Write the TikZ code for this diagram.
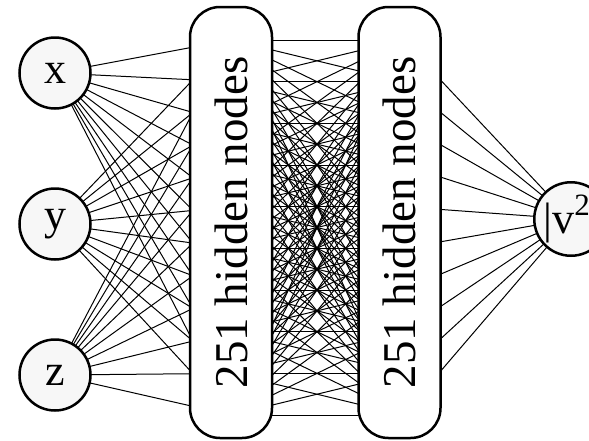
\documentclass[tikz,border=0pt]{standalone}
\usepackage{fontspec}
\setmainfont{Liberation Serif}
\pgfdeclarelayer{background}
\pgfsetlayers{background,main}
\tikzset{
  unitnode/.style={circle, draw, line width=2.5pt, fill=black!3,
    minimum size=71pt, inner sep=0pt, font=\fontsize{44}{50}\selectfont},
  layerbox/.style={draw, line width=2.5pt, fill=white, rounded corners=30pt,
    minimum width=431pt, minimum height=82pt, inner sep=0pt, rotate=90,
    font=\fontsize{47}{52}\selectfont},
  conn/.style={line width=1pt, black}
}
\begin{document}
\begin{tikzpicture}[x=1pt, y=-1pt]
  \useasboundingbox (0,0) rectangle (589,440);
  % input units
  \node[unitnode] (x) at (55,73) {x};
  \node[unitnode] (y) at (55,224) {y};
  \node[unitnode] (z) at (55,375) {z};
  % hidden layers
  \node[layerbox] (h1) at (231,222.5) {251 hidden nodes};
  \node[layerbox] (h2) at (399.5,222.5) {251 hidden nodes};
  % output unit
  \node[unitnode] (out) at (571,219)
    {|v\raisebox{0.42em}{\fontsize{31}{31}\selectfont 2}\phantom{|}\hspace{6pt}};
  % attachment points inside the layers
  \foreach \i in {0,...,9} {
    \coordinate (a\i) at (231,{40+41.67*\i});
    \coordinate (b\i) at (403,{40+41.67*\i});
  }
  % connections, drawn behind the units
  \begin{pgfonlayer}{background}
    \foreach \n in {x,y,z}
      \foreach \i in {0,...,9}
        \draw[conn] (\n.center) -- (a\i);
    \foreach \i in {0,...,9}
      \foreach \j in {0,...,9}
        \draw[conn] (a\i) -- (b\j);
    \foreach \j in {0,...,9}
      \draw[conn] (b\j) -- (out.center);
  \end{pgfonlayer}
\end{tikzpicture}
\end{document}
